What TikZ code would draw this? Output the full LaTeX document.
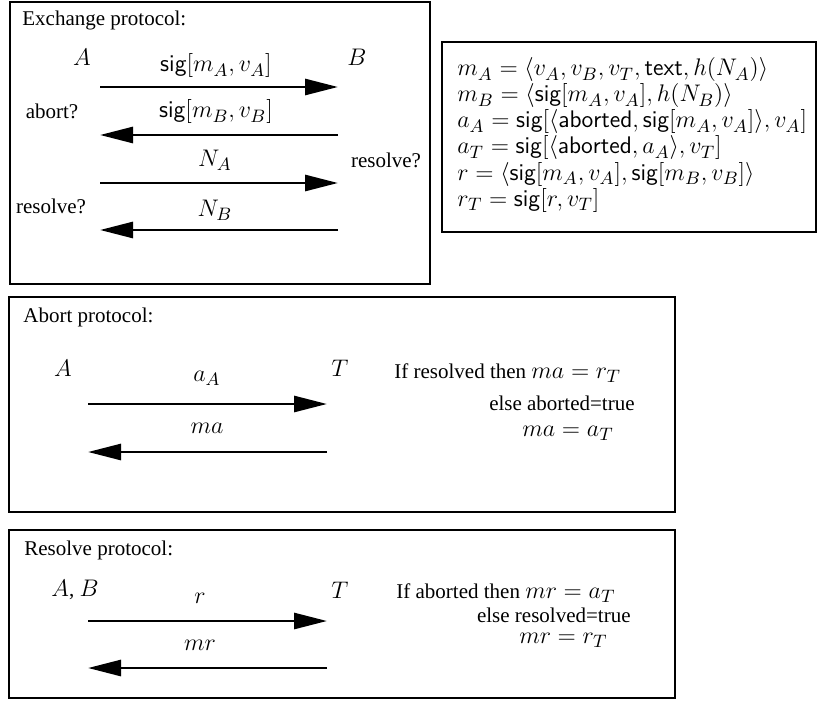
\documentclass[tikz,border=0pt]{standalone}
\usepackage{fontspec}
\setmainfont{Liberation Serif}
\DeclareMathSizes{10.5}{12}{8.6}{6.5}
\usetikzlibrary{arrows.meta}
\newcommand{\sg}{\mathsf{sig}}
\newcommand{\sfw}[1]{\mathsf{#1}}
\begin{document}
\begin{tikzpicture}[x=0.5pt,y=-0.5pt,
  font=\fontsize{10.5}{12.6}\selectfont,
  frame/.style={draw, line width=1.1pt},
  msg/.style={line width=1.4pt, -{Triangle[length=16.5pt,width=8pt]}},
  lbl/.style={inner sep=0pt, anchor=center},
  lw/.style={inner sep=0pt, anchor=west},
  le/.style={inner sep=0pt, anchor=east},
  defl/.style={inner sep=0pt, anchor=base west}]
\useasboundingbox (0,0) rectangle (817,700);

% ---------- Exchange protocol ----------
\draw[frame] (10,2) rectangle (430,284);
\node[lw] (exT) at (22,20) {Exchange protocol:};
\node[lbl] (eA) at (82,57) {$A$};
\node[lbl] (eB) at (357,57) {$B$};
\coordinate (e1s) at (100,87);  \coordinate (e1e) at (338,87);
\coordinate (e2s) at (338,135); \coordinate (e2e) at (100,135);
\coordinate (e3s) at (100,183); \coordinate (e3e) at (338,183);
\coordinate (e4s) at (338,230); \coordinate (e4e) at (100,230);
\node[lbl] (m1) at (216,66) {$\sg[m_A,v_A]$};
\node[lbl] (ab) at (52,111) {abort?};
\node[lbl] (m2) at (216,112) {$\sg[m_B,v_B]$};
\node[lbl] (m3) at (215,160) {$N_A$};
\node[lbl] (rsB) at (386,160) {resolve?};
\node[lbl] (rsA) at (51,206) {resolve?};
\node[lbl] (m4) at (215,210) {$N_B$};
\draw[msg] (e1s) -- (e1e);
\draw[msg] (e2s) -- (e2e);
\draw[msg] (e3s) -- (e3e);
\draw[msg] (e4s) -- (e4e);

% ---------- Definitions ----------
\draw[frame] (442,42) rectangle (816,232);
\node[defl] (d1) at (457,76) {$m_A=\langle v_A,v_B,v_T,\sfw{text},h(N_A)\rangle$};
\node[defl] (d2) at (457,102) {$m_B=\langle \sg[m_A,v_A],h(N_B)\rangle$};
\node[defl] (d3) at (457,128) {$a_A=\sg[\langle\sfw{aborted},\sg[m_A,v_A]\rangle,v_A]$};
\node[defl] (d4) at (457,154) {$a_T=\sg[\langle\sfw{aborted},a_A\rangle,v_T]$};
\node[defl] (d5) at (457,180) {$r=\langle\sg[m_A,v_A],\sg[m_B,v_B]\rangle$};
\node[defl] (d6) at (457,206) {$r_T=\sg[r,v_T]$};

% ---------- Abort protocol ----------
\draw[frame] (9,297) rectangle (675,512);
\node[lw] (abT) at (23,317) {Abort protocol:};
\node[lbl] (aA) at (63,368) {$A$};
\node[lbl] (aT) at (340,368) {$T$};
\coordinate (a1s) at (88,404);  \coordinate (a1e) at (327,404);
\coordinate (a2s) at (327,452); \coordinate (a2e) at (88,452);
\node[lbl] (am1) at (207,378) {$a_A$};
\node[lbl] (am2) at (207,428) {$ma$};
\draw[msg] (a1s) -- (a1e);
\draw[msg] (a2s) -- (a2e);
\node[lw] (ar1) at (394,373) {If resolved then $ma=r_T$};
\node[le] (ar2) at (635,403) {else aborted=true};
\node[le] (ar3) at (614,433) {$ma=a_T$};

% ---------- Resolve protocol ----------
\draw[frame] (9,530) rectangle (675,698);
\node[lw] (rsT) at (24,550) {Resolve protocol:};
\node[lbl] (rA) at (75,590) {$A$, $B$};
\node[lbl] (rT) at (340,590) {$T$};
\coordinate (r1s) at (88,621);  \coordinate (r1e) at (327,621);
\coordinate (r2s) at (327,668); \coordinate (r2e) at (88,668);
\node[lbl] (rm1) at (200,598) {$r$};
\node[lbl] (rm2) at (200,645) {$mr$};
\draw[msg] (r1s) -- (r1e);
\draw[msg] (r2s) -- (r2e);
\node[lw] (rr1) at (396,593) {If aborted then $mr=a_T$};
\node[le] (rr2) at (631,615) {else resolved=true};
\node[le] (rr3) at (608,640) {$mr=r_T$};
\end{tikzpicture}
\end{document}
